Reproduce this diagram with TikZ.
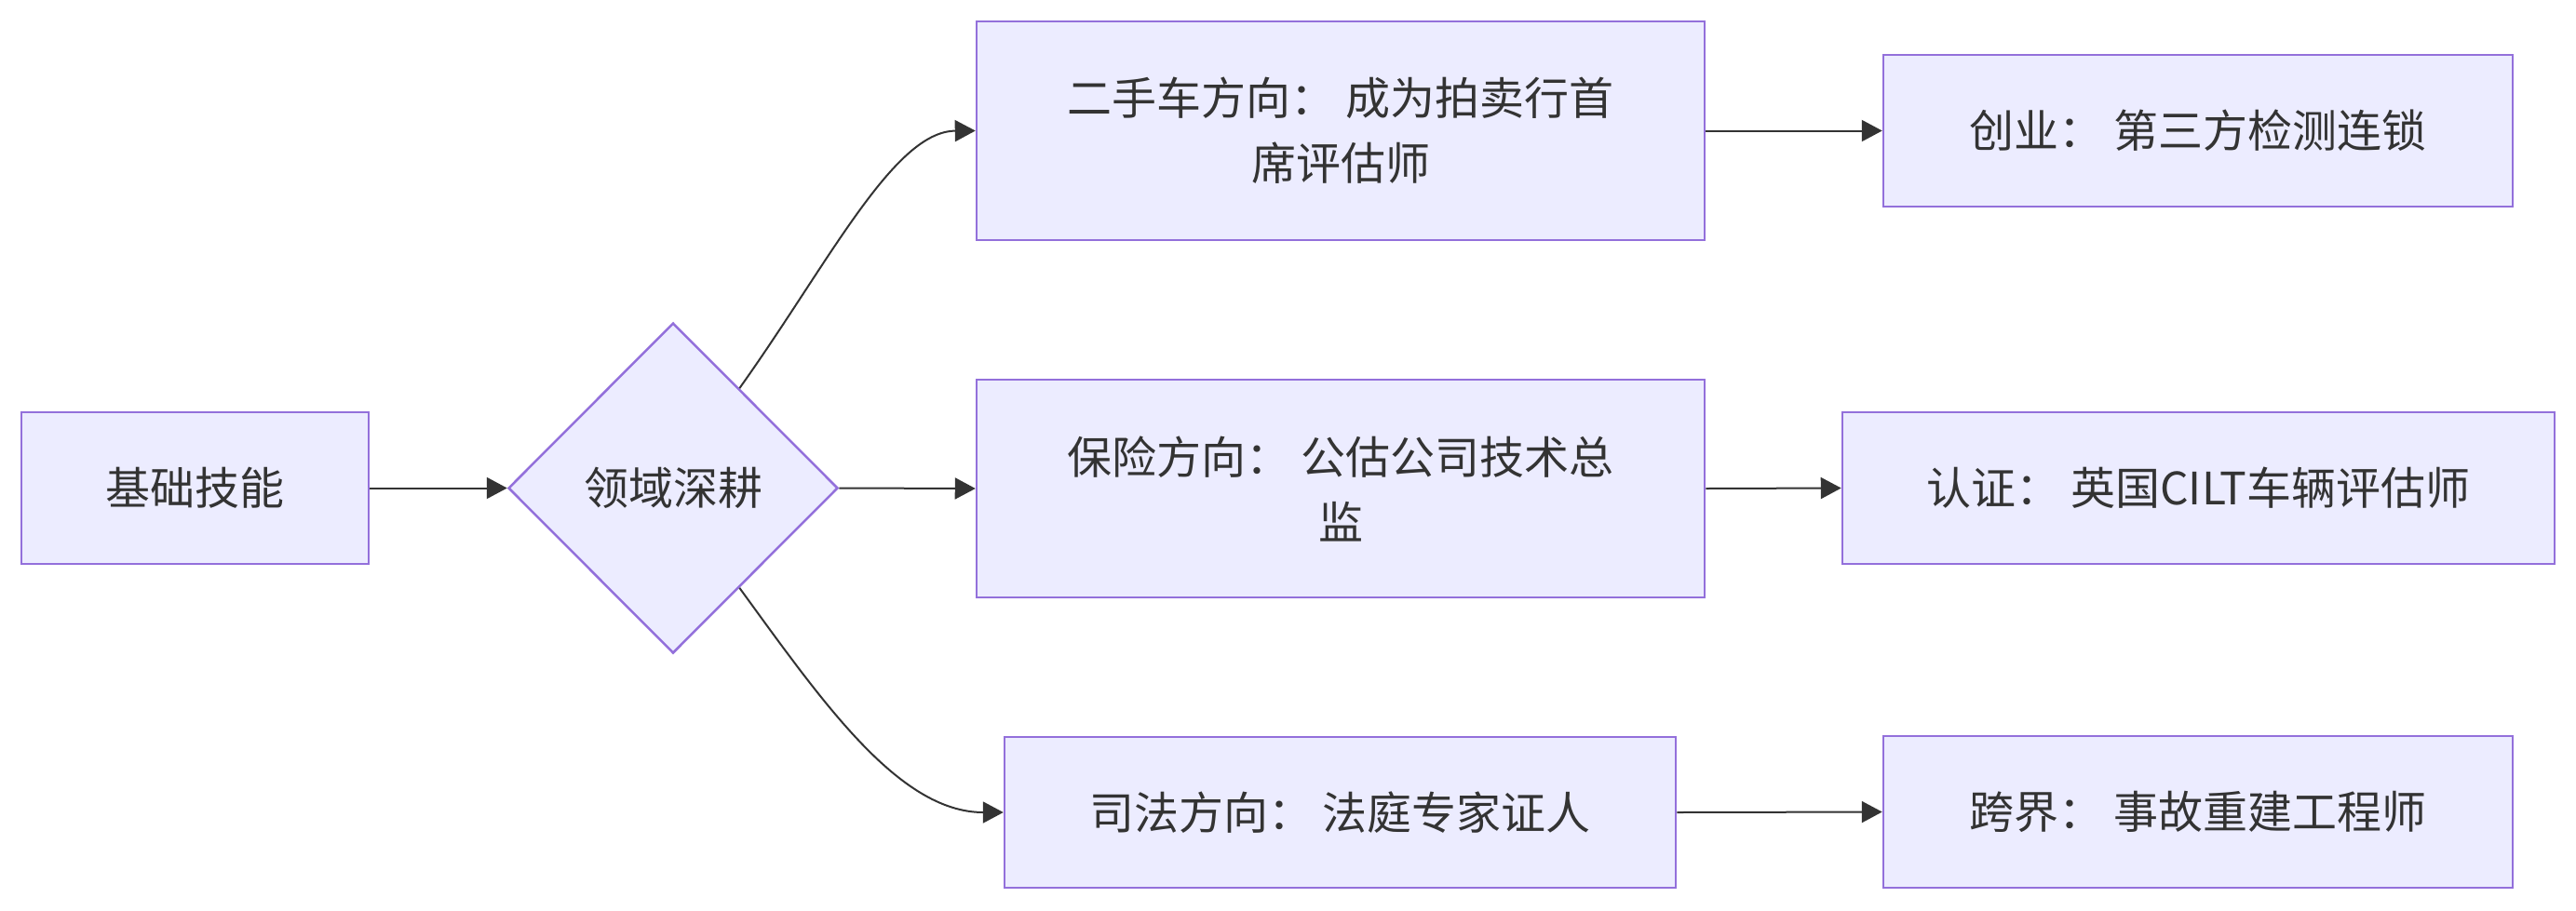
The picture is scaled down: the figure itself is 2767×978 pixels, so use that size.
\documentclass[tikz,border=0pt]{standalone}
\usepackage{fontspec}
\newfontfamily\cjk{Noto Sans CJK SC}
\usetikzlibrary{shapes.geometric,arrows.meta,calc}
\definecolor{nodefill}{HTML}{ECECFF}
\definecolor{nodeline}{HTML}{9370DB}
\definecolor{ink}{HTML}{333333}
\begin{document}
\begin{tikzpicture}[x=1pt,y=-1pt,
  box/.style={draw=nodeline,fill=nodefill,line width=2.5pt,rectangle,inner sep=0pt,
    text=ink,font=\cjk\fontsize{48}{70}\selectfont,align=center},
  dia/.style={draw=nodeline,fill=nodefill,line width=2.5pt,diamond,inner sep=0pt,
    text=ink,font=\cjk\fontsize{48}{70}\selectfont,minimum width=354pt,minimum height=355pt},
  link/.style={draw=ink,line width=2pt,-{Triangle[length=22pt,width=23pt]}}]
\useasboundingbox (0,0) rectangle (2767,978);
\node[box,minimum width=373pt,minimum height=163pt] (a) at (209.5,524.5) {基础技能};
\node[dia] (d) at (723,524.5) {领域深耕};
\node[box,minimum width=782pt,minimum height=235pt] (b1) at (1440,140.5) {二手车方向： 成为拍卖行首\\席评估师};
\node[box,minimum width=676pt,minimum height=163pt] (c1) at (2361,140.5) {创业： 第三方检测连锁};
\node[box,minimum width=782pt,minimum height=234pt] (b2) at (1440,525) {保险方向： 公估公司技术总\\监};
\node[box,minimum width=765pt,minimum height=163pt] (c2) at (2361.5,524.5) {认证： 英国CILT车辆评估师};
\node[box,minimum width=721pt,minimum height=162pt] (b3) at (1439.5,873) {司法方向： 法庭专家证人};
\node[box,minimum width=676pt,minimum height=163pt] (c3) at (2361,872.5) {跨界： 事故重建工程师};
\draw[link] (a.east) -- (d.west);
\draw[link] (d.east) -- (b2.west);
\draw[link] ($(d.north)!0.4!(d.east)$) .. controls (890,283) and (960,141) .. (b1.west);
\draw[link] ($(d.south)!0.4!(d.east)$) .. controls (882,752) and (965,873) .. (b3.west);
\draw[link] (b1.east) -- (c1.west);
\draw[link] (b2.east) -- (c2.west);
\draw[link] (b3.east) -- (c3.west);
\end{tikzpicture}
\end{document}
